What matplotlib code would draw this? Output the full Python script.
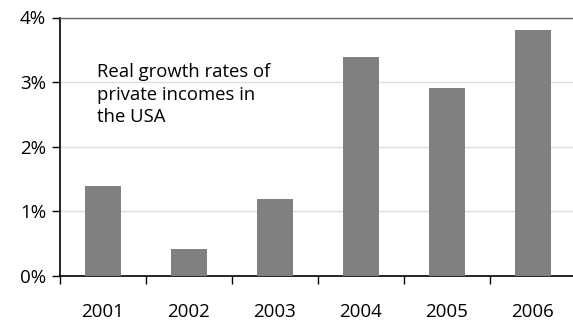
import matplotlib
matplotlib.use("Agg")
import matplotlib.pyplot as plt
import numpy as np

years = ["2001", "2002", "2003", "2004", "2005", "2006"]
growth = [1.39, 0.41, 1.19, 3.39, 2.91, 3.81]
yticks = [0, 1, 2, 3, 4]
ytick_labels = ["0%", "1%", "2%", "3%", "4%"]

plt.rcParams['font.family'] = ['Open Sans', 'DejaVu Sans']

fig = plt.figure(figsize=(5.73, 3.2), dpi=100)
ax = fig.add_axes([60/573, 1 - 275.7/320, 516/573, (275.7-17.5)/320])

x = np.arange(len(years))
ax.bar(x, growth, width=0.42, color="#808080", zorder=3)
ax.set_xlim(-0.5, len(years) - 0.5)
ax.set_ylim(0, 4)
ax.set_yticks(yticks)
ax.set_yticklabels(ytick_labels, fontsize=13.5)
ax.set_xticks(x)
ax.set_xticklabels(years, fontsize=13.5)
ax.tick_params(axis='x', which='major', length=0, pad=20)
ax.set_xticks(np.arange(len(years) + 1) - 0.5, minor=True)
ax.tick_params(axis='x', which='minor', length=6, width=1, direction='out', color='black')
ax.tick_params(axis='y', length=6, width=1, direction='out', pad=4)
ax.grid(axis='y', color="#dddddd", linewidth=1, zorder=0)
ax.spines['right'].set_visible(False)
ax.spines['top'].set_color("#666666")
ax.spines['top'].set_linewidth(1)
ax.spines['left'].set_linewidth(1.2)
ax.spines['bottom'].set_linewidth(1.2)

fig.text(97/573, 1 - 94.5/320, "Real growth rates of\nprivate incomes in\nthe USA",
         fontsize=13.3, va='center', ha='left', linespacing=1.32)

fig.savefig("out.png", dpi=100)
